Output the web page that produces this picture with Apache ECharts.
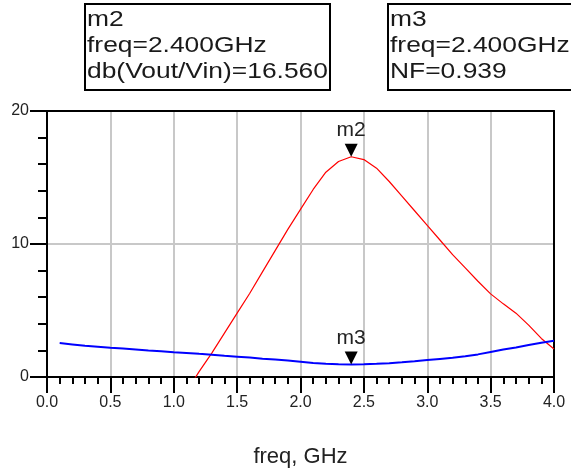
<!DOCTYPE html>
<html>
<head>
<meta charset="utf-8">
<script src="https://cdn.jsdelivr.net/npm/echarts@6.0.0/dist/echarts.min.js"></script>
<style>
    html, body { margin: 0; padding: 0; background: #fff; }
    #main { width: 571px; height: 473px; }
</style>
</head>
<body>
<div id="main"></div>
<script>
// 频率点 (GHz)
var freq = [0.1, 0.2, 0.3, 0.4, 0.5, 0.6, 0.7, 0.8, 0.9, 1.0,
            1.1, 1.2, 1.3, 1.4, 1.5, 1.6, 1.7, 1.8, 1.9, 2.0,
            2.1, 2.2, 2.3, 2.4, 2.5, 2.6, 2.7, 2.8, 2.9, 3.0,
            3.1, 3.2, 3.3, 3.4, 3.5, 3.6, 3.7, 3.8, 3.9, 4.0];

// db(Vout/Vin)
var gainDb = [-42, -33, -26, -20.5, -16, -12.5, -9.6, -7.1, -4.9, -2.9,
              -1.1, 0.4, 1.8, 3.3, 4.8, 6.3, 7.9, 9.5, 11.1, 12.6,
              14.1, 15.4, 16.2, 16.56, 16.35, 15.7, 14.7, 13.6, 12.5, 11.4,
              10.3, 9.2, 8.2, 7.2, 6.25, 5.5, 4.8, 3.9, 2.9, 2.1];

// NF
var nf = [2.55, 2.45, 2.35, 2.28, 2.2, 2.14, 2.07, 2.0, 1.94, 1.87,
          1.81, 1.74, 1.68, 1.6, 1.53, 1.46, 1.38, 1.31, 1.24, 1.15,
          1.06, 0.99, 0.95, 0.939, 0.95, 0.99, 1.04, 1.1, 1.18, 1.27,
          1.36, 1.45, 1.56, 1.7, 1.88, 2.06, 2.22, 2.4, 2.58, 2.72];

// 标记点
var markerNames = ['m2', 'm3'];
var markerFreq = [2.4, 2.4];
var markerVal = [16.56, 0.939];
var markerLabel = ['db(Vout/Vin)', 'NF'];

var xTicks = ['0.0', '0.5', '1.0', '1.5', '2.0', '2.5', '3.0', '3.5', '4.0'];

var FONT = 'Liberation Sans, Arial';

function pairs(ys) {
    return freq.map(function (f, i) { return [f, ys[i]]; });
}

function marker(i) {
    return {
        symbol: 'triangle',
        symbolRotate: 180,
        symbolSize: [13, 13],
        symbolOffset: [0, '-50%'],
        itemStyle: { color: '#000' },
        label: {
            show: true,
            position: 'top',
            distance: 3,
            formatter: markerNames[i],
            color: '#222',
            fontSize: 21,
            fontFamily: FONT
        },
        data: [{ coord: [markerFreq[i], markerVal[i]] }]
    };
}

function markerBox(i, left) {
    var txt = markerNames[i] + '\nfreq=' + markerFreq[i].toFixed(3) + 'GHz\n' +
        markerLabel[i] + '=' + markerVal[i].toFixed(3);
    return {
        type: 'group',
        left: left,
        top: 3,
        children: [{
            type: 'rect',
            shape: { x: 0, y: 0, width: 245, height: 86 },
            style: { fill: '#fff', stroke: '#000', lineWidth: 2 }
        }, {
            type: 'text',
            x: 2, y: 3,
            scaleX: 1.2,
            style: {
                text: txt,
                font: '22px "Liberation Sans", Arial',
                lineHeight: 26,
                fill: '#1a1a1a'
            }
        }]
    };
}

// 边框用的轴: 只画一条黑线
function frameAxis(pos, min, max) {
    return {
        type: 'value', position: pos, min: min, max: max,
        axisLine: { show: true, onZero: false, lineStyle: { color: '#000', width: 2 } },
        axisTick: { show: false }, axisLabel: { show: false }, splitLine: { show: false }
    };
}

var chart = echarts.init(document.getElementById('main'));

var option = {
    animation: false,
    backgroundColor: '#fff',
    grid: { left: 47, top: 111, width: 507, height: 274.5 },
    xAxis: [{
        type: 'value',
        min: 0, max: 4, interval: 0.5,
        name: 'freq, GHz',
        nameLocation: 'middle',
        nameGap: 69,
        nameTextStyle: { fontSize: 22, color: '#222', fontFamily: FONT },
        axisLine: { onZero: false, lineStyle: { color: '#000', width: 2 } },
        axisTick: { show: true, length: 16, lineStyle: { color: '#000', width: 2 } },
        minorTick: { show: true, splitNumber: 5, length: 7, lineStyle: { color: '#000', width: 2 } },
        axisLabel: {
            margin: 18, fontSize: 16, color: '#222', fontFamily: FONT,
            formatter: function (v) { return xTicks[Math.round(v / 0.5)]; }
        },
        splitLine: { show: true, lineStyle: { color: '#c8c8c8', width: 2 } }
    }, frameAxis('top', 0, 4)],
    yAxis: [{
        type: 'value',
        min: 0, max: 20, interval: 10,
        axisLine: { show: true, onZero: false, lineStyle: { color: '#000', width: 2 } },
        axisTick: { show: true, length: 17, lineStyle: { color: '#000', width: 2 } },
        minorTick: { show: true, splitNumber: 5, length: 9, lineStyle: { color: '#000', width: 2 } },
        axisLabel: { margin: 18, fontSize: 16, color: '#222', fontFamily: FONT },
        splitLine: { show: true, lineStyle: { color: '#c8c8c8', width: 2 } }
    }, frameAxis('right', 0, 20)],
    series: [{
        name: 'db(Vout/Vin)',
        type: 'line',
        data: pairs(gainDb),
        showSymbol: false,
        lineStyle: { color: '#ff0000', width: 1.2 },
        markPoint: marker(0)
    }, {
        name: 'NF',
        type: 'line',
        data: pairs(nf),
        showSymbol: false,
        lineStyle: { color: '#0000ff', width: 2 },
        markPoint: marker(1)
    }],
    graphic: [markerBox(0, 84), markerBox(1, 387)]
};

chart.setOption(option);
</script>
</body>
</html>
